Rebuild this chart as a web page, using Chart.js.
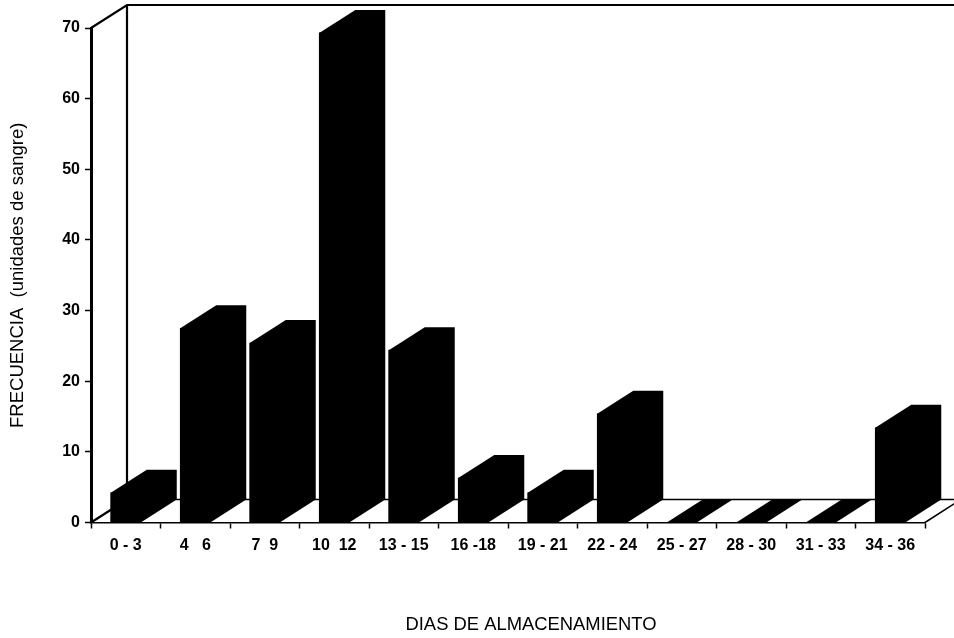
<!DOCTYPE html>
<html>
<head>
<meta charset="utf-8">
<title>Frecuencia por dias de almacenamiento</title>
<script src="https://cdn.jsdelivr.net/npm/chart.js@4"></script>
<style>
body { margin: 0; background: #fff; }
canvas { display: block; }
</style>
</head>
<body>
<canvas id="myChart" width="954" height="638"></canvas>
<script>
const categories = ['0 - 3', '4   6', '7  9', '10  12', '13 - 15', '16 -18', '19 - 21', '22 - 24', '25 - 27', '28 - 30', '31 - 33', '34 - 36'];
const frequencies = [4.2, 27.5, 25.4, 69.3, 24.4, 6.3, 4.2, 15.4, 0, 0, 0, 13.4];
const yTitle = 'FRECUENCIA  (unidades de sangre)';
const xTitle = 'DIAS DE ALMACENAMIENTO';

// depth of the fake 3D box, in pixels
const depthX = 36;
const depthY = 23;

const box3d = {
  id: 'box3d',
  beforeDatasetsDraw(chart) {
    const { ctx, scales: { x, y }, width } = chart;
    const left = x.left, right = x.right, top = y.top, bottom = y.bottom;
    ctx.save();
    ctx.strokeStyle = '#000';
    ctx.lineCap = 'round';
    // back wall and floor
    ctx.lineWidth = 2.2;
    ctx.beginPath();
    ctx.moveTo(left, top);
    ctx.lineTo(left + depthX, top - depthY);
    ctx.lineTo(width, top - depthY);
    ctx.moveTo(left + depthX, top - depthY);
    ctx.lineTo(left + depthX, bottom - depthY);
    ctx.moveTo(left, bottom);
    ctx.lineTo(left + depthX, bottom - depthY);
    ctx.stroke();
    ctx.lineWidth = 1.5;
    ctx.beginPath();
    ctx.moveTo(left + depthX, bottom - depthY);
    ctx.lineTo(width, bottom - depthY);
    ctx.moveTo(right, bottom);
    ctx.lineTo(right + depthX, bottom - depthY);
    ctx.stroke();
    ctx.restore();
  },
  afterDatasetsDraw(chart) {
    const { ctx, scales: { y } } = chart;
    const bars = chart.getDatasetMeta(0).data;
    ctx.save();
    ctx.fillStyle = '#000';
    bars.forEach((bar) => {
      const l = bar.x - bar.width / 2;
      const r = bar.x + bar.width / 2;
      const t = bar.y;
      const b = y.getPixelForValue(0);
      // top face + side face as one black shape
      ctx.beginPath();
      ctx.moveTo(l, t);
      ctx.lineTo(l + depthX, t - depthY);
      ctx.lineTo(r + depthX, t - depthY);
      ctx.lineTo(r + depthX, b - depthY);
      ctx.lineTo(r, b);
      ctx.lineTo(l, b);
      ctx.closePath();
      ctx.fill();
    });
    // x title is off centre in the original, scale title can't do that
    ctx.font = '18.4px "Liberation Sans"';
    ctx.textAlign = 'center';
    ctx.textBaseline = 'middle';
    ctx.fillText(xTitle, 531, 625);
    ctx.restore();
  }
};

new Chart(document.getElementById('myChart'), {
  type: 'bar',
  data: {
    labels: categories,
    datasets: [{
      label: 'Frecuencia',
      data: frequencies,
      backgroundColor: '#000',
      borderWidth: 0,
      barThickness: 30
    }]
  },
  options: {
    responsive: false,
    animation: false,
    layout: { padding: { top: 28, right: 29, left: 0, bottom: 0 } },
    plugins: {
      legend: { display: false },
      tooltip: { enabled: false }
    },
    scales: {
      x: {
        afterFit(scale) { scale.height = 115.5; },
        border: { color: '#000', width: 1.5 },
        grid: { drawOnChartArea: false, color: '#000', tickLength: 6, tickWidth: 1.5 },
        ticks: {
          color: '#000',
          font: { family: '"Liberation Sans"', size: 16, weight: 'bold' },
          padding: 7,
          maxRotation: 0,
          autoSkip: false
        }
      },
      y: {
        min: 0,
        max: 70,
        afterFit(scale) { scale.width = 91; },
        border: { color: '#000', width: 3 },
        grid: { drawOnChartArea: false, color: '#000', tickLength: 6, tickWidth: 1.5 },
        ticks: {
          stepSize: 10,
          color: '#000',
          font: { family: '"Liberation Sans"', size: 16, weight: 'bold' },
          padding: 5
        },
        title: {
          display: true,
          text: yTitle,
          color: '#000',
          font: { family: '"Liberation Sans"', size: 18.5 },
          padding: { top: 7, bottom: 0 }
        }
      }
    }
  },
  plugins: [box3d]
});
</script>
</body>
</html>
